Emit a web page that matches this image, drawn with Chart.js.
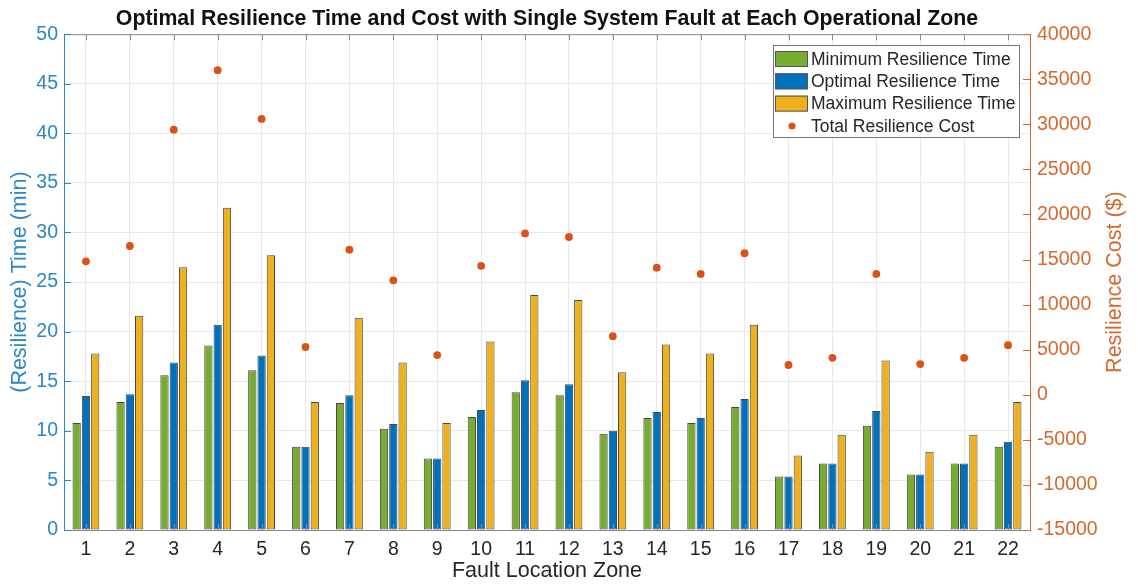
<!DOCTYPE html>
<html>
<head>
<meta charset="utf-8">
<script src="https://cdn.jsdelivr.net/npm/chart.js@4/dist/chart.umd.min.js"></script>
<style>
  html, body { margin: 0; padding: 0; background: #fff; }
  #wrap { width: 1138px; height: 588px; }
</style>
</head>
<body>
<div id="wrap"><canvas id="myChart" width="1138" height="588"></canvas></div>
<script>
var zones = ['1', '2', '3', '4', '5', '6', '7', '8', '9', '10', '11', '12', '13', '14', '15', '16', '17', '18', '19', '20', '21', '22'];
var minTime = [10.8, 12.9, 15.6, 18.6, 16.1, 8.4, 12.8, 10.2, 7.2, 11.4, 13.9, 13.6, 9.7, 11.3, 10.8, 12.4, 5.4, 6.7, 10.5, 5.6, 6.7, 8.4];
var optTime = [13.5, 13.7, 16.9, 20.7, 17.6, 8.4, 13.6, 10.7, 7.2, 12.1, 15.1, 14.7, 10.0, 11.9, 11.3, 13.2, 5.4, 6.7, 12.0, 5.6, 6.7, 8.9];
var maxTime = [17.8, 21.6, 26.5, 32.5, 27.7, 12.9, 21.4, 16.9, 10.8, 19.0, 23.7, 23.2, 15.9, 18.7, 17.8, 20.7, 7.5, 9.6, 17.1, 7.9, 9.6, 12.9];
var totalCost = [14800, 16500, 29400, 36000, 30600, 5300, 16100, 12700, 4400, 14300, 17900, 17500, 6500, 14100, 13400, 15700, 3300, 4100, 13400, 3400, 4100, 5500];

var leftColor = '#2a87c8';
var rightColor = '#d4692f';
var textColor = '#262626';
var fontFamily = '"Liberation Sans", Arial, Helvetica, sans-serif';

// top border, inward tick marks (matlab style) and rotated right axis title
var boxPlugin = {
    id: 'boxPlugin',
    afterDraw: function (chart) {
        var ctx = chart.ctx;
        var a = chart.chartArea;
        var sx = chart.scales.x, sy = chart.scales.y, sy1 = chart.scales.y1;
        ctx.save();
        ctx.lineWidth = 1;
        ctx.strokeStyle = '#8c8c8c';
        ctx.beginPath();
        ctx.moveTo(a.left, a.top + 0.5);
        ctx.lineTo(a.right, a.top + 0.5);
        // ticks on top and bottom
        zones.forEach(function (z, i) {
            var px = Math.round(sx.getPixelForValue(i)) + 0.5;
            ctx.moveTo(px, a.top);
            ctx.lineTo(px, a.top + 6);
            ctx.moveTo(px, a.bottom);
            ctx.lineTo(px, a.bottom - 6);
        });
        ctx.stroke();

        ctx.strokeStyle = leftColor;
        ctx.beginPath();
        sy.ticks.forEach(function (t) {
            var py = Math.round(sy.getPixelForValue(t.value)) + 0.5;
            ctx.moveTo(a.left, py);
            ctx.lineTo(a.left + 7, py);
        });
        ctx.stroke();

        ctx.strokeStyle = rightColor;
        ctx.beginPath();
        sy1.ticks.forEach(function (t) {
            var py = Math.round(sy1.getPixelForValue(t.value)) + 0.5;
            ctx.moveTo(a.right, py);
            ctx.lineTo(a.right - 7, py);
        });
        ctx.stroke();

        ctx.translate(1115, (a.top + a.bottom) / 2);
        ctx.rotate(-Math.PI / 2);
        ctx.fillStyle = rightColor;
        ctx.font = '21.5px ' + fontFamily;
        ctx.textAlign = 'center';
        ctx.textBaseline = 'middle';
        ctx.fillText('Resilience Cost ($)', 0, 0);
        ctx.restore();
    }
};

// legend box inside the axes, top right
var boxLegend = {
    id: 'boxLegend',
    afterDraw: function (chart) {
        var ctx = chart.ctx;
        var ds = chart.data.datasets;
        var x0 = 773, y0 = 45, w = 246, h = 92;
        ctx.save();
        ctx.fillStyle = '#ffffff';
        ctx.fillRect(x0, y0, w, h);
        ctx.strokeStyle = '#777';
        ctx.lineWidth = 1;
        ctx.strokeRect(x0 + 0.5, y0 + 0.5, w, h);
        ctx.font = '17.5px ' + fontFamily;
        ctx.textBaseline = 'middle';
        ds.forEach(function (d, i) {
            var cy = 59 + i * 22.3;
            if (d.type === 'line') {
                ctx.fillStyle = d.backgroundColor;
                ctx.beginPath();
                ctx.arc(792, cy, 3.5, 0, Math.PI * 2);
                ctx.fill();
            } else {
                ctx.fillStyle = d.backgroundColor;
                ctx.fillRect(775, cy - 8, 33, 16);
                ctx.strokeStyle = '#555';
                ctx.strokeRect(775.5, cy - 7.5, 32, 15);
            }
            ctx.fillStyle = textColor;
            ctx.fillText(d.label, 811, cy + 1);
        });
        ctx.restore();
    }
};

document.addEventListener('DOMContentLoaded', function () {
    var ctx = document.getElementById('myChart').getContext('2d');

    var barStyle = { borderColor: '#474747', borderWidth: 1, borderSkipped: false, barPercentage: 0.89, categoryPercentage: 0.635, order: 2 };

    var myChart = new Chart(ctx, {
        data: {
            labels: zones,
            datasets: [
                Object.assign({ type: 'bar', label: 'Minimum Resilience Time', data: minTime, yAxisID: 'y', backgroundColor: '#77ac30' }, barStyle),
                Object.assign({ type: 'bar', label: 'Optimal Resilience Time', data: optTime, yAxisID: 'y', backgroundColor: '#0072bd' }, barStyle),
                Object.assign({ type: 'bar', label: 'Maximum Resilience Time', data: maxTime, yAxisID: 'y', backgroundColor: '#edb120' }, barStyle),
                {
                    type: 'line', label: 'Total Resilience Cost', data: totalCost, yAxisID: 'y1',
                    showLine: false, backgroundColor: '#d95319', borderColor: '#d95319',
                    pointRadius: 3.9, pointBorderWidth: 0, order: 1
                }
            ]
        },
        options: {
            responsive: false,
            animation: false,
            layout: { padding: 0 },
            plugins: {
                legend: { display: false },
                tooltip: { enabled: false },
                title: {
                    display: true,
                    text: 'Optimal Resilience Time and Cost with Single System Fault at Each Operational Zone',
                    fullSize: false,
                    color: '#111',
                    font: { family: fontFamily, size: 21.3, weight: 'bold' },
                    padding: { top: 6, bottom: 2.6 }
                }
            },
            scales: {
                x: {
                    offset: true,
                    grid: { offset: false, color: '#e8e8e8', drawTicks: false },
                    border: { color: '#8c8c8c' },
                    ticks: { color: textColor, padding: 8, font: { family: fontFamily, size: 19.5 } },
                    title: {
                        display: true, text: 'Fault Location Zone', color: textColor,
                        font: { family: fontFamily, size: 21.5 }, padding: { top: 0, bottom: 4 }
                    },
                    afterFit: function (scale) { scale.height = 58; }
                },
                y: {
                    position: 'left',
                    min: 0, max: 50,
                    grid: { color: '#e8e8e8', drawTicks: false },
                    border: { color: leftColor },
                    ticks: { stepSize: 5, color: leftColor, padding: 6, font: { family: fontFamily, size: 19.5 } },
                    title: {
                        display: true, text: '(Resilience) Time (min)', color: leftColor,
                        font: { family: fontFamily, size: 21.5 }, padding: { top: 7, bottom: 0 }
                    },
                    afterFit: function (scale) { scale.width = 64; }
                },
                y1: {
                    position: 'right',
                    min: -15000, max: 40000,
                    grid: { drawOnChartArea: false, drawTicks: false },
                    border: { color: rightColor },
                    ticks: {
                        stepSize: 5000, color: rightColor, padding: 7, font: { family: fontFamily, size: 19.5 },
                        callback: function (v) { return String(v); }
                    },
                    afterFit: function (scale) { scale.width = 108; }
                }
            }
        },
        plugins: [boxPlugin, boxLegend]
    });
});
</script>
</body>
</html>
